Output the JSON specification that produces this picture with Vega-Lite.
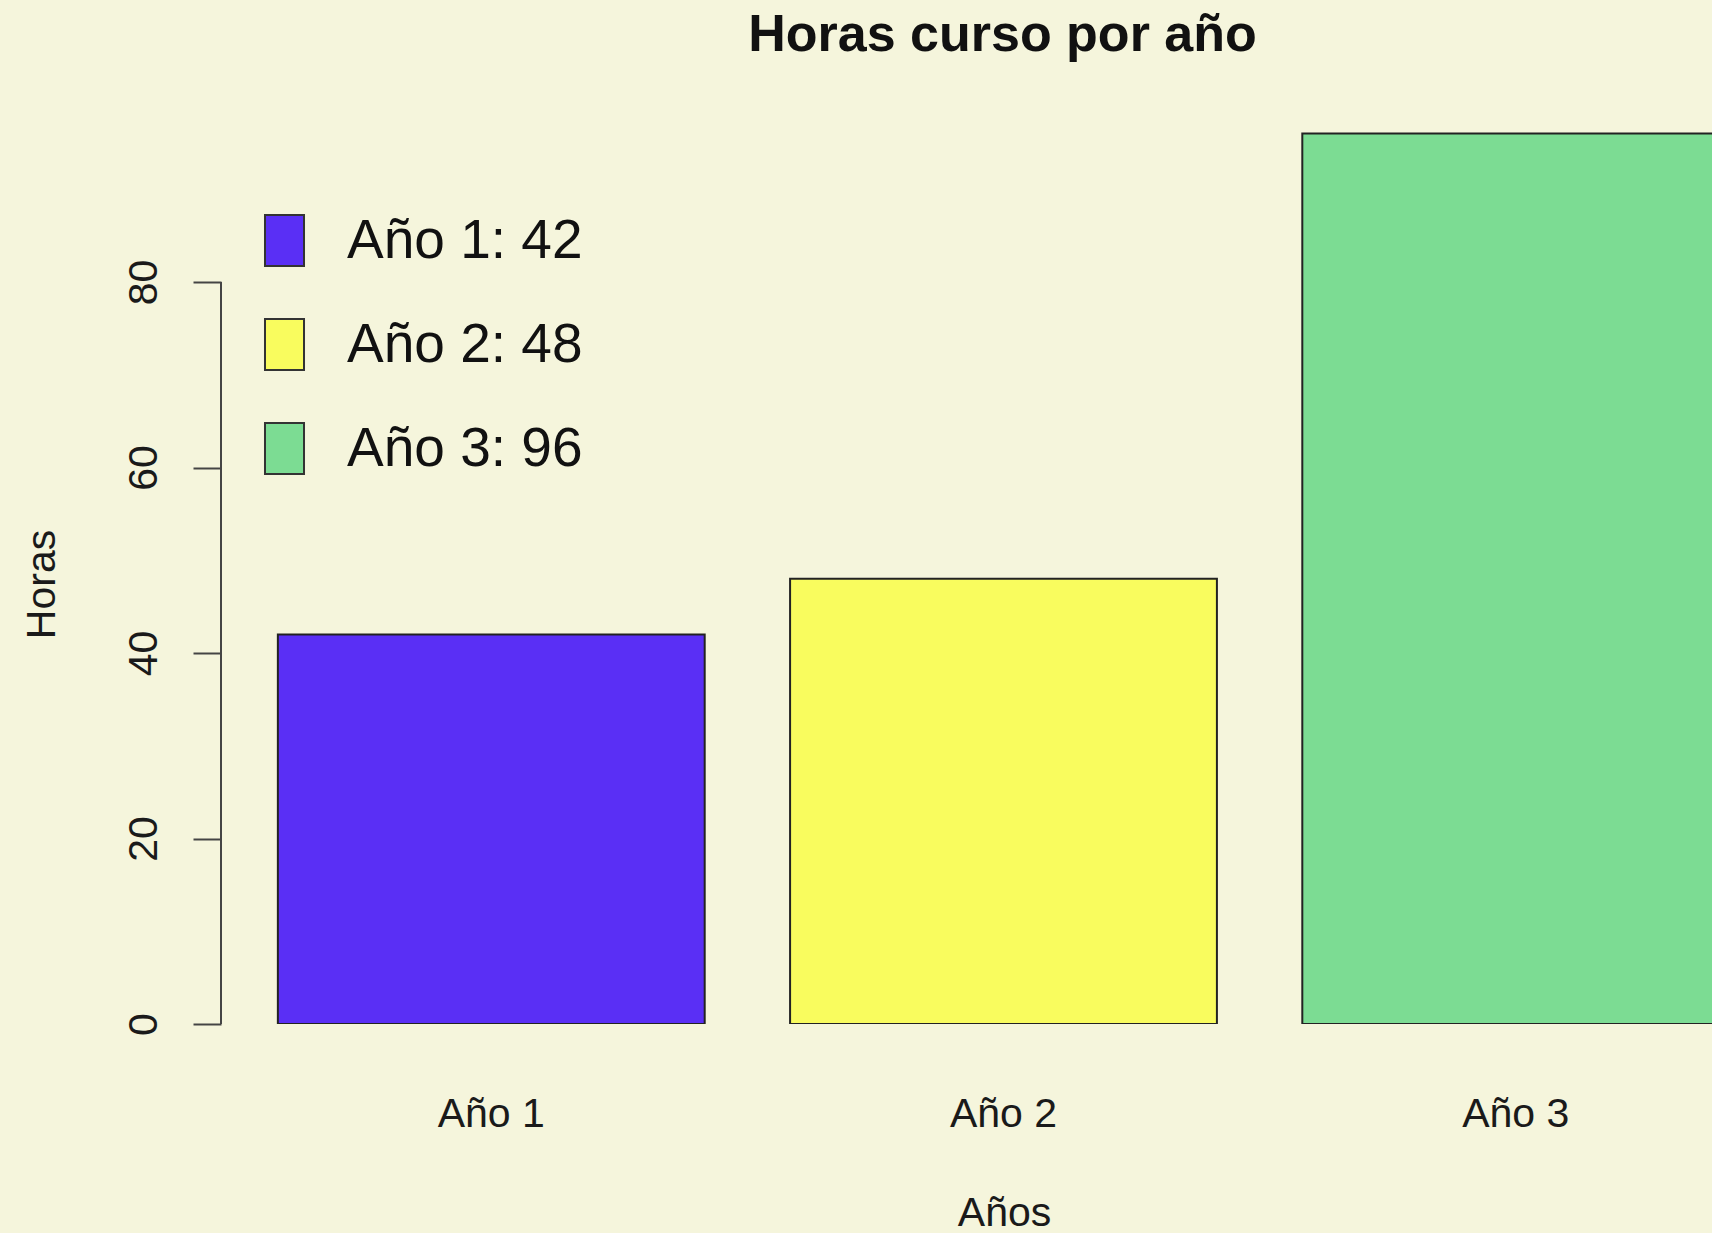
{
  "$schema": "https://vega.github.io/schema/vega-lite/v6.json",
  "autosize": {"type": "none"},
  "padding": {"left": 221, "top": 98, "right": 0, "bottom": 209},
  "width": 1491,
  "height": 926,
  "background": "#f5f5dc",
  "config": {
    "font": "Liberation Sans",
    "view": {"stroke": null, "fill": null}
  },
  "title": {
    "text": "Horas curso por año",
    "fontSize": 52,
    "fontWeight": "bold",
    "color": "#111111",
    "anchor": "middle",
    "frame": "group",
    "dx": 36,
    "dy": 46,
    "offset": 41,
    "baseline": "alphabetic"
  },
  "data": {
    "values": [
      {"anio": "Año 1", "horas": 42, "leyenda": "Año 1: 42"},
      {"anio": "Año 2", "horas": 48, "leyenda": "Año 2: 48"},
      {"anio": "Año 3", "horas": 96, "leyenda": "Año 3: 96"}
    ]
  },
  "layer": [
    {
      "mark": {"type": "bar", "clip": true, "stroke": "#222222", "strokeWidth": 2, "opacity": 1},
      "encoding": {
        "x": {
          "field": "anio",
          "type": "nominal",
          "sort": null,
          "scale": {"range": [0, 1565], "paddingInner": 0.1667, "paddingOuter": 0.111},
          "axis": {
            "title": "Años",
            "labelAngle": 0,
            "domain": false,
            "ticks": false,
            "tickSize": 0,
            "labelPadding": 70,
            "labelFontSize": 41,
            "labelColor": "#1a1a1a",
            "titleFontSize": 41,
            "titleFontWeight": "normal",
            "titleColor": "#1a1a1a",
            "titleX": 783,
            "titleY": 201,
            "titleBaseline": "alphabetic",
            "titleAlign": "center"
          }
        },
        "y": {
          "field": "horas",
          "type": "quantitative",
          "scale": {"domain": [0, 99.84], "nice": false, "zero": true},
          "axis": {
            "title": "Horas",
            "values": [0, 20, 40, 60, 80],
            "grid": false,
            "domain": false,
            "tickSize": 28,
            "tickWidth": 2,
            "tickColor": "#444444",
            "labelAngle": 270,
            "labelAlign": "center",
            "labelBaseline": "bottom",
            "labelPadding": 28,
            "labelFontSize": 41,
            "labelColor": "#1a1a1a",
            "titleFontSize": 41,
            "titleFontWeight": "normal",
            "titleColor": "#1a1a1a",
            "titleAngle": 270,
            "titleX": -179,
            "titleY": 486,
            "titleBaseline": "middle",
            "titleAlign": "center"
          }
        },
        "color": {
          "field": "leyenda",
          "type": "nominal",
          "sort": null,
          "scale": {
            "domain": ["Año 1: 42", "Año 2: 48", "Año 3: 96"],
            "range": ["#5a2ff5", "#f9fc5e", "#7cdc93"]
          },
          "legend": {
            "orient": "none",
            "legendX": 36,
            "legendY": 115,
            "title": null,
            "padding": 0,
            "symbolType": "M-0.765,-1H0.765V1H-0.765Z",
            "symbolSize": 2601,
            "symbolStrokeColor": "#333333",
            "symbolStrokeWidth": 2,
            "symbolOpacity": 1,
            "labelFontSize": 55,
            "labelOffset": 35,
            "labelColor": "#111111",
            "rowPadding": 45,
            "labelLimit": 0
          }
        }
      }
    },
    {
      "mark": {"type": "rule", "color": "#444444", "strokeWidth": 2},
      "encoding": {
        "x": {"datum": 0, "type": "quantitative", "scale": {"domain": [0, 1]}, "axis": null},
        "y": {"datum": 0, "type": "quantitative"},
        "y2": {"datum": 80}
      }
    }
  ],
  "resolve": {"scale": {"x": "independent"}}
}
